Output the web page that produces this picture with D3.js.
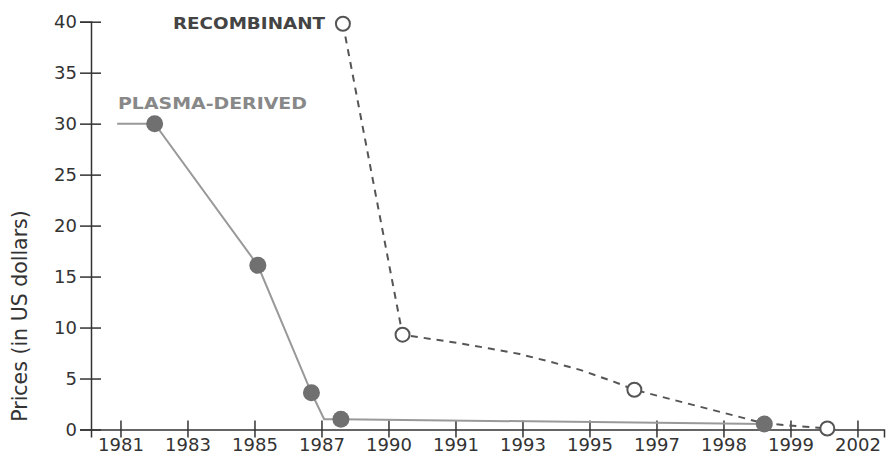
<!DOCTYPE html>
<html>
<head>
<meta charset="utf-8">
<script src="https://cdn.jsdelivr.net/npm/d3@7"></script>
<style>
  body { margin: 0; background: #fff; }
  svg { display: block; font-family: "DejaVu Sans", Verdana, sans-serif; }
</style>
</head>
<body>
<svg id="chart" width="886" height="461"></svg>
<script>
// x positions are in "tick slots": 0 = 1981 tick, 1 = 1983 tick, ...
const yearLabels = ["1981", "1983", "1985", "1987", "1990", "1991", "1993", "1995", "1997", "1998", "1999", "2002"];
const priceTicks = [0, 5, 10, 15, 20, 25, 30, 35, 40];

// plasma-derived: line vertices and marker points
const plasmaLineX = [-0.05, 0.51, 2.05, 2.85, 3.04, 3.29, 9.61];
const plasmaLineY = [30, 30, 16.1, 3.6, 1.0, 1.0, 0.55];
const plasmaDotX = [0.51, 2.05, 2.85, 3.29, 9.61];
const plasmaDotY = [30, 16.1, 3.6, 1.0, 0.55];

// recombinant: line vertices and marker points
const recombLineX = [3.32, 4.21, 5.02, 5.51, 5.96, 6.41, 6.86, 7.36, 7.67, 9.61, 10.55];
const recombLineY = [39.8, 9.3, 8.5, 7.95, 7.4, 6.65, 5.85, 4.7, 3.9, 0.6, 0.1];
const recombDotX = [3.32, 4.21, 7.67, 10.55];
const recombDotY = [39.8, 9.3, 3.9, 0.1];

const svg = d3.select("#chart");

const x = d3.scaleLinear().domain([-0.44, 11.396]).range([91, 884]);
const y = d3.scaleLinear().domain([0, 40]).range([429.5, 21.7]);

// y axis
const yAxis = svg.append("g")
  .attr("transform", "translate(91,0)")
  .call(d3.axisLeft(y).tickValues(priceTicks).tickSizeOuter(0).tickSize(11).tickPadding(3));
yAxis.select(".domain").attr("stroke", "#333").attr("stroke-width", 1.5);
yAxis.selectAll(".tick line").attr("x1", 10).attr("stroke", "#333").attr("stroke-width", 1.5);
yAxis.selectAll(".tick text")
  .style("font-size", "18px")
  .style("font-family", "DejaVu Sans, Verdana, sans-serif")
  .attr("fill", "#333");

// x axis
const xAxis = svg.append("g")
  .attr("transform", "translate(0,429.5)")
  .call(d3.axisBottom(x).tickValues(d3.range(yearLabels.length))
    .tickFormat(i => yearLabels[i]).tickSizeOuter(0).tickSize(8).tickPadding(1));
xAxis.select(".domain").attr("stroke", "#333").attr("stroke-width", 1.5);
xAxis.selectAll(".tick line").attr("y1", -9).attr("stroke", "#333").attr("stroke-width", 1.5);
xAxis.selectAll(".tick text")
  .style("font-size", "18px")
  .style("font-family", "DejaVu Sans, Verdana, sans-serif")
  .attr("fill", "#333");

// y axis title
svg.append("text")
  .attr("transform", "translate(27,316) rotate(-90)")
  .attr("text-anchor", "middle")
  .style("font-size", "20.5px")
  .attr("fill", "#333")
  .text("Prices (in US dollars)");

const line = d3.line().x(d => x(d[0])).y(d => y(d[1]));

// plasma-derived series
svg.append("path")
  .datum(d3.zip(plasmaLineX, plasmaLineY))
  .attr("fill", "none")
  .attr("stroke", "#999")
  .attr("stroke-width", 2)
  .attr("d", line);

// recombinant series
svg.append("path")
  .datum(d3.zip(recombLineX, recombLineY))
  .attr("fill", "none")
  .attr("stroke", "#555")
  .attr("stroke-width", 2)
  .attr("stroke-dasharray", "7,6")
  .attr("d", line);

svg.selectAll(".plasma-dot")
  .data(d3.zip(plasmaDotX, plasmaDotY))
  .enter()
  .append("circle")
  .attr("class", "plasma-dot")
  .attr("cx", d => x(d[0]))
  .attr("cy", d => y(d[1]))
  .attr("r", 8.5)
  .attr("fill", "#707070");

svg.selectAll(".recomb-dot")
  .data(d3.zip(recombDotX, recombDotY))
  .enter()
  .append("circle")
  .attr("class", "recomb-dot")
  .attr("cx", d => x(d[0]))
  .attr("cy", d => y(d[1]))
  .attr("r", 7)
  .attr("fill", "#fff")
  .attr("stroke", "#555")
  .attr("stroke-width", 2);

// series labels
svg.append("text")
  .attr("x", 173)
  .attr("y", 29)
  .attr("textLength", 152)
  .attr("lengthAdjust", "spacingAndGlyphs")
  .style("font-size", "15px")
  .style("font-weight", "bold")
  .attr("fill", "#444")
  .text("RECOMBINANT");

svg.append("text")
  .attr("x", 118)
  .attr("y", 109)
  .attr("textLength", 189)
  .attr("lengthAdjust", "spacingAndGlyphs")
  .style("font-size", "15px")
  .style("font-weight", "bold")
  .attr("fill", "#888")
  .text("PLASMA-DERIVED");
</script>
</body>
</html>
